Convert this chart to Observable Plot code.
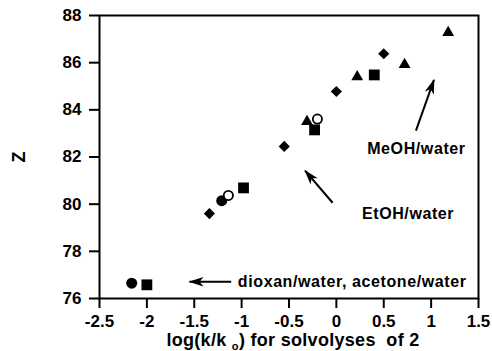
<!DOCTYPE html>
<html><head><meta charset="utf-8">
<script src="https://cdn.jsdelivr.net/npm/d3@7"></script>
<script src="https://cdn.jsdelivr.net/npm/@observablehq/plot@0.6"></script>
<style>body{margin:0;background:#fff}</style>
</head><body><div id="chart"></div>
<script>
const xTicks = [-2.5, -2, -1.5, -1, -0.5, 0, 0.5, 1, 1.5];
const yTicks = [76, 78, 80, 82, 84, 86, 88];

const diamondX = [-1.34, -0.55, 0.0, 0.5];
const diamondY = [79.6, 82.45, 84.78, 86.38];
const triangleX = [-0.31, 0.22, 0.72, 1.18];
const triangleY = [83.5, 85.4, 85.92, 87.28];
const squareX = [-2.0, -0.98, -0.23, 0.4];
const squareY = [76.58, 80.69, 83.15, 85.48];
const circleX = [-2.16, -1.21];
const circleY = [76.65, 80.15];
const openCircleX = [-1.14, -0.2];
const openCircleY = [80.37, 83.61];

const arrowFromX = [-1.11, -0.04, 0.84];
const arrowFromY = [76.71, 80.06, 83.12];
const arrowToX = [-1.55, -0.33, 1.03];
const arrowToY = [76.71, 81.42, 85.27];

const labelText = ["dioxan/water, acetone/water", "EtOH/water", "MeOH/water"];
const labelX = [-1.04, 0.27, 0.325];
const labelY = [76.72, 79.6, 82.35];

const font = "'Liberation Sans', Arial, Helvetica, sans-serif";
const fmt = d => String(d);

const plot = Plot.plot({
  width: 492, height: 351,
  marginLeft: 99, marginRight: 14, marginTop: 15, marginBottom: 53,
  x: {domain: [-2.5, 1.5]},
  y: {domain: [76, 88]},
  style: {fontFamily: font, fontSize: "17px", fontWeight: "bold", color: "black", background: "white", overflow: "visible"},
  marks: [
    Plot.axisX({ticks: xTicks, tickFormat: fmt, tickSize: 10, tickPadding: 6, strokeWidth: 2, label: null}),
    Plot.axisY({ticks: yTicks, tickFormat: fmt, tickSize: 10, tickPadding: 8, strokeWidth: 2, label: null}),
    Plot.frame({stroke: "black", strokeWidth: 2}),
    Plot.link(arrowFromX, {x1: arrowFromX, y1: arrowFromY, x2: arrowToX, y2: arrowToY, stroke: "black", strokeWidth: 2, className: "arrowline"}),
    Plot.text(labelText, {x: labelX, y: labelY, text: labelText, textAnchor: "start", fontSize: 16, fill: "black", fontWeight: "bold", className: "annot"}),
    Plot.dot(diamondX, {x: diamondX, y: diamondY, symbol: "diamond2", r: 5.0, fill: "black", stroke: "none"}),
    Plot.dot(triangleX, {x: triangleX, y: triangleY, symbol: "triangle", r: 4.4, fill: "black", stroke: "none"}),
    Plot.dot(squareX, {x: squareX, y: squareY, symbol: "square", r: 6.1, fill: "black", stroke: "none"}),
    Plot.dot(circleX, {x: circleX, y: circleY, symbol: "circle", r: 5.5, fill: "black", stroke: "none"}),
    Plot.dot(openCircleX, {x: openCircleX, y: openCircleY, symbol: "circle", r: 4.6, fill: "white", stroke: "black", strokeWidth: 1.8})
  ]
});

const svg = d3.select(plot);
const defs = svg.insert("defs", ":first-child");
defs.append("marker")
  .attr("id", "head")
  .attr("markerUnits", "userSpaceOnUse")
  .attr("viewBox", "-16 -8 18 16")
  .attr("markerWidth", 18).attr("markerHeight", 16)
  .attr("refX", 0).attr("refY", 0)
  .attr("orient", "auto")
  .append("path")
  .attr("d", "M1,0 L-14,-4.8 L-10,0 L-14,4.8 Z")
  .attr("fill", "black");
svg.selectAll("g.arrowline path").attr("marker-end", "url(#head)");
svg.selectAll("g.annot text").style("letter-spacing", "0.6px");

const xt = svg.append("text")
  .attr("x", 293).attr("y", 346)
  .attr("text-anchor", "middle")
  .style("font-size", "18px")
  .style("letter-spacing", "0.3px")
  .attr("fill", "black");
xt.append("tspan").text("log(k/k\u00a0");
xt.append("tspan").attr("dy", 4).style("font-size", "11px").text("o");
xt.append("tspan").attr("dy", -4).text(") for solvolyses\u00a0 of 2");

svg.append("text")
  .attr("transform", "translate(25,157) rotate(-90)")
  .attr("text-anchor", "middle")
  .style("font-size", "18px")
  .attr("fill", "black")
  .text("Z");

document.getElementById("chart").appendChild(plot);
</script>
</body></html>
